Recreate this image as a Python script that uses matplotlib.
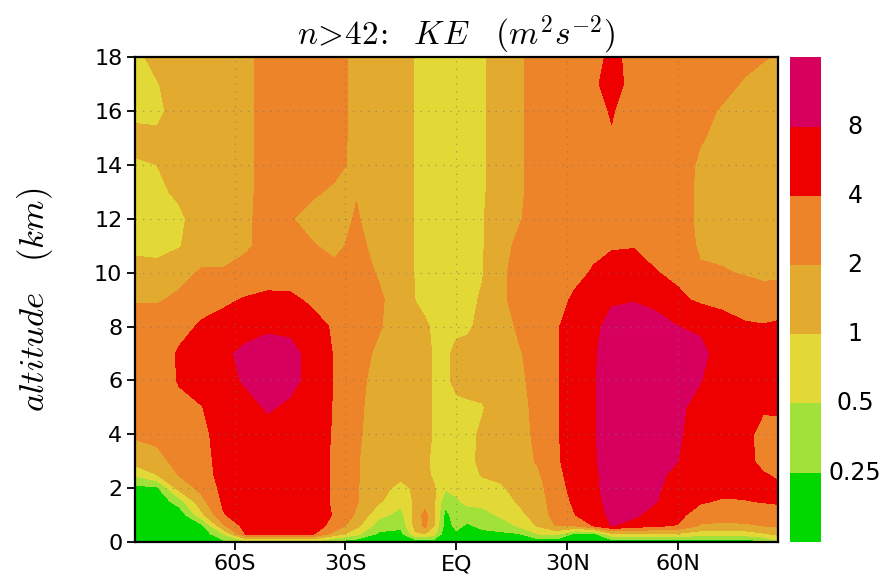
import matplotlib
matplotlib.use("Agg")
import matplotlib.pyplot as plt
import numpy as np

plt.rcParams['mathtext.fontset'] = 'cm'

# latitude (deg, S negative) and altitude (km, top first)
lats = [-87, -81, -75, -69, -63, -57, -51, -45, -39, -33, -27, -21, -15, -11, -8.5,
        -6, -3, 0, 3, 7, 12, 17, 22, 27, 32, 37, 42, 48, 54, 60, 66, 72, 78, 83, 87]
alts = [18, 17, 16, 15, 14, 13, 12, 11, 10, 9, 8, 7, 6, 5, 4, 3, 2.5, 2, 1.5, 1, 0.6, 0.3, 0]

# KE (m2 s-2), one list per latitude, values from 18 km down to 0 km
ke_by_lat = [
    [0.8, 0.8, 0.8, 1.3, 0.9, 0.8, 0.8, 0.85, 1.3, 1.9, 2.6, 2.6, 2.6, 2.5, 2.2, 1.3, 0.55, 0.2, 0.15, 0.15, 0.15, 0.15, 0.15],
    [1.3, 0.95, 0.8, 1.2, 1.0, 0.85, 0.8, 0.85, 1.2, 1.9, 2.7, 2.8, 2.8, 2.7, 2.4, 1.6, 1.0, 0.22, 0.15, 0.15, 0.15, 0.15, 0.15],
    [1.5, 1.5, 1.5, 1.5, 1.3, 1.15, 0.85, 0.95, 1.7, 2.2, 3.3, 4.3, 4.2, 3.4, 3.0, 2.5, 2.1, 1.3, 0.35, 0.15, 0.15, 0.15, 0.15],
    [1.5, 1.5, 1.5, 1.6, 1.6, 1.6, 1.5, 1.6, 2.1, 3.2, 4.3, 5.5, 5.2, 3.9, 3.5, 3.2, 3.0, 2.4, 1.6, 0.8, 0.2, 0.15, 0.15],
    [1.6, 1.6, 1.6, 1.6, 1.6, 1.6, 1.6, 1.8, 2.05, 3.6, 5.0, 7.0, 6.5, 5.5, 5.0, 5.0, 5.0, 4.8, 4.5, 3.8, 1.8, 0.5, 0.2],
    [1.7, 1.7, 1.7, 1.7, 1.7, 1.7, 1.8, 1.8, 2.6, 4.2, 6.0, 9.5, 8.6, 6.5, 6.0, 5.8, 5.8, 5.8, 5.8, 5.6, 5.2, 4.2, 0.4],
    [2.6, 2.6, 2.6, 2.6, 2.6, 2.6, 2.5, 2.5, 3.0, 4.6, 7.2, 10.5, 11, 8.5, 6.5, 6.0, 6.0, 6.0, 6.0, 5.8, 5.5, 4.5, 0.4],
    [2.8, 2.8, 2.8, 2.8, 2.7, 2.6, 2.1, 2.5, 3.0, 4.5, 7.0, 9.5, 9.5, 7.2, 6.0, 6.0, 6.0, 6.0, 6.0, 6.0, 5.6, 4.6, 0.4],
    [2.8, 2.8, 2.8, 2.8, 2.5, 2.2, 1.6, 2.1, 2.8, 3.6, 5.0, 6.5, 6.5, 6.0, 5.8, 5.6, 5.6, 5.6, 5.6, 5.6, 5.4, 4.4, 0.4],
    [2.8, 2.8, 2.8, 2.7, 2.4, 1.8, 1.6, 1.7, 2.4, 3.0, 3.7, 3.8, 3.8, 3.8, 3.7, 3.6, 3.6, 3.6, 3.6, 3.8, 3.2, 1.5, 0.2],
    [1.6, 1.6, 1.6, 1.6, 1.7, 1.95, 2.1, 2.4, 2.5, 2.6, 2.6, 2.5, 2.4, 2.3, 2.2, 2.1, 2.1, 2.1, 2.1, 1.8, 1.2, 0.6, 0.15],
    [1.4, 1.4, 1.4, 1.4, 1.4, 1.5, 1.5, 1.6, 1.9, 2.2, 2.1, 1.8, 1.6, 1.5, 1.5, 1.4, 1.4, 1.3, 1.1, 0.6, 0.35, 0.22, 0.15],
    [1.3, 1.3, 1.3, 1.3, 1.3, 1.3, 1.3, 1.3, 1.4, 1.5, 1.5, 1.5, 1.5, 1.4, 1.4, 1.4, 1.2, 0.8, 0.6, 0.4, 0.3, 0.2, 0.15],
    [0.95, 0.95, 0.95, 0.95, 0.95, 0.95, 0.95, 0.95, 0.95, 0.98, 1.2, 1.3, 1.3, 1.3, 1.3, 1.2, 1.2, 1.15, 1.15, 1.3, 1.3, 0.9, 0.15],
    [0.8, 0.8, 0.8, 0.8, 0.8, 0.8, 0.8, 0.8, 0.8, 0.85, 1.1, 1.15, 1.15, 1.15, 1.15, 1.1, 1.15, 1.2, 1.4, 2.5, 2.3, 1.0, 0.15],
    [0.75, 0.75, 0.75, 0.75, 0.75, 0.75, 0.75, 0.75, 0.75, 0.75, 0.9, 0.95, 0.95, 0.95, 0.95, 0.9, 0.9, 1.05, 1.1, 1.1, 1.0, 0.6, 0.15],
    [0.7, 0.7, 0.7, 0.7, 0.7, 0.7, 0.7, 0.7, 0.7, 0.7, 0.75, 0.85, 0.85, 0.8, 0.75, 0.7, 0.7, 0.55, 0.3, 0.2, 0.18, 0.15, 0.15],
    [0.7, 0.7, 0.7, 0.7, 0.7, 0.7, 0.7, 0.7, 0.7, 0.75, 0.85, 1.2, 1.2, 0.85, 0.75, 0.7, 0.7, 0.6, 0.45, 0.35, 0.3, 0.22, 0.15],
    [0.75, 0.75, 0.75, 0.75, 0.75, 0.75, 0.75, 0.75, 0.75, 0.8, 0.9, 1.25, 1.25, 0.9, 0.85, 0.8, 0.75, 0.8, 0.6, 0.35, 0.22, 0.18, 0.15],
    [0.9, 0.9, 0.9, 0.9, 0.9, 0.9, 0.95, 0.95, 0.95, 1.1, 1.2, 1.3, 1.3, 0.95, 1.1, 1.2, 1.05, 0.8, 0.6, 0.4, 0.3, 0.2, 0.15],
    [1.5, 1.5, 1.5, 1.5, 1.5, 1.5, 1.5, 1.6, 1.8, 1.8, 1.5, 1.4, 1.4, 1.4, 1.4, 1.3, 1.2, 0.9, 0.7, 0.55, 0.35, 0.22, 0.15],
    [1.8, 1.8, 1.8, 1.8, 1.8, 1.8, 1.9, 2.3, 2.4, 2.4, 2.2, 1.9, 1.8, 1.7, 1.7, 1.6, 1.5, 1.3, 1.1, 0.8, 0.55, 0.24, 0.15],
    [2.6, 2.6, 2.6, 2.6, 2.6, 2.6, 2.6, 2.7, 2.7, 2.7, 2.6, 2.5, 2.4, 2.3, 2.2, 2.1, 1.8, 1.6, 1.5, 1.4, 1.05, 0.5, 0.15],
    [2.8, 2.8, 2.8, 2.8, 2.8, 2.8, 2.8, 2.9, 2.9, 3.2, 3.7, 3.7, 3.7, 3.7, 3.7, 3.6, 3.3, 3.0, 2.7, 2.5, 2.05, 0.6, 0.15],
    [2.8, 2.8, 2.8, 2.8, 2.8, 2.8, 2.9, 3.0, 3.4, 4.4, 5.5, 5.6, 5.6, 5.6, 5.6, 5.5, 5.3, 5.0, 4.5, 3.9, 2.0, 0.22, 0.15],
    [3.0, 3.4, 3.2, 3.0, 3.0, 3.0, 3.1, 3.5, 4.2, 5.6, 7.0, 7.4, 7.4, 7.4, 7.4, 7.3, 7.0, 7.0, 6.8, 6.0, 4.0, 0.2, 0.15],
    [4.8, 5.6, 4.2, 3.8, 3.2, 3.0, 3.2, 3.8, 5.0, 7.5, 9.5, 10.5, 11, 11, 11, 11, 10.5, 10, 9.5, 9.0, 8.2, 0.8, 0.15],
    [3.2, 3.0, 2.9, 2.9, 2.9, 2.9, 3.1, 3.9, 5.0, 7.8, 10, 11, 11, 11, 11, 11, 11, 11, 10, 9.0, 6.0, 0.9, 0.15],
    [2.9, 2.8, 2.8, 2.8, 2.8, 2.8, 2.9, 3.3, 4.1, 7.3, 9.0, 10.5, 10.5, 10, 10, 9.5, 9.0, 8.8, 8.2, 6.0, 4.3, 0.9, 0.15],
    [2.8, 2.8, 2.8, 2.8, 2.8, 2.8, 2.8, 3.0, 3.5, 4.5, 8.0, 9.5, 9.5, 9.0, 8.6, 8.0, 7.0, 6.0, 5.3, 4.5, 3.9, 0.9, 0.15],
    [2.6, 2.5, 2.3, 2.1, 1.8, 1.7, 1.7, 1.8, 2.2, 3.6, 7.0, 10, 8.2, 6.5, 6.0, 5.6, 5.2, 4.8, 4.2, 3.2, 1.8, 0.7, 0.15],
    [2.6, 2.3, 1.9, 1.7, 1.6, 1.6, 1.6, 1.7, 2.1, 3.7, 4.5, 5.5, 5.6, 5.6, 5.6, 5.4, 5.2, 4.6, 3.8, 2.8, 1.7, 0.7, 0.15],
    [2.3, 1.9, 1.6, 1.6, 1.5, 1.5, 1.5, 1.6, 1.9, 3.0, 4.3, 5.5, 5.4, 5.0, 4.8, 4.8, 5.0, 4.6, 3.9, 2.8, 1.8, 0.7, 0.15],
    [2.1, 1.6, 1.5, 1.5, 1.5, 1.5, 1.5, 1.5, 1.8, 2.5, 4.2, 5.2, 5.0, 4.3, 3.3, 3.4, 4.2, 4.5, 4.1, 3.0, 2.0, 0.9, 0.2],
    [1.9, 1.5, 1.5, 1.5, 1.5, 1.5, 1.5, 1.5, 1.8, 2.6, 4.5, 5.0, 5.0, 4.4, 3.2, 3.0, 3.7, 4.4, 4.2, 3.3, 2.2, 1.2, 0.4],
]

ke_levels = [0.25, 0.5, 1, 2, 4, 8]
level_labels = ['0.25', '0.5', '1', '2', '4', '8']
fill_colors = ['#00d800', '#a2e03a', '#e2d936', '#e3aa30', '#ee8429', '#ee0000', '#d8005e']

lat_ticks = [-60, -30, 0, 30, 60]
lat_labels = ['60S', '30S', 'EQ', '30N', '60N']
alt_ticks = [0, 2, 4, 6, 8, 10, 12, 14, 16, 18]

ke = np.array(ke_by_lat).T  # shape (alt, lat)
bounds = np.log2([0.125] + ke_levels + [16])

fig = plt.figure(figsize=(8.87, 5.77), dpi=100)
ax = fig.add_axes([0.152, 0.0607, 0.725, 0.840])
cax = fig.add_axes([0.8906, 0.0607, 0.035, 0.840])

cs = ax.contourf(lats, alts, np.log2(ke), levels=bounds, colors=fill_colors)
ax.set_xlim(-87, 87)
ax.set_ylim(0, 18)

ax.set_xticks(lat_ticks)
ax.set_xticklabels(lat_labels)
ax.set_yticks(alt_ticks)
ax.tick_params(direction='out', length=6, width=1.3, labelsize=16, pad=3)
ax.grid(True, color='0.45', linestyle=(0, (1, 5)), linewidth=0.9, alpha=0.6)
for sp in ax.spines.values():
    sp.set_linewidth(1.6)

ax.set_title(r'$n\!>\!42\!:\ \ KE\ \ \ (m^{2}s^{-2})$', fontsize=24, pad=8)
ax.set_ylabel(r'$altitude\ \ \ (km)$', fontsize=25, labelpad=28)

cbar = fig.colorbar(cs, cax=cax, spacing='uniform')
cbar.outline.set_visible(False)
cbar.set_ticks([])
n_boxes = len(fill_colors)
for i, lab in enumerate(level_labels):
    cax.text(2.1, (i + 1) / n_boxes, lab, transform=cax.transAxes,
             ha='center', va='center', fontsize=17)

plt.savefig("out.png", dpi=100)
